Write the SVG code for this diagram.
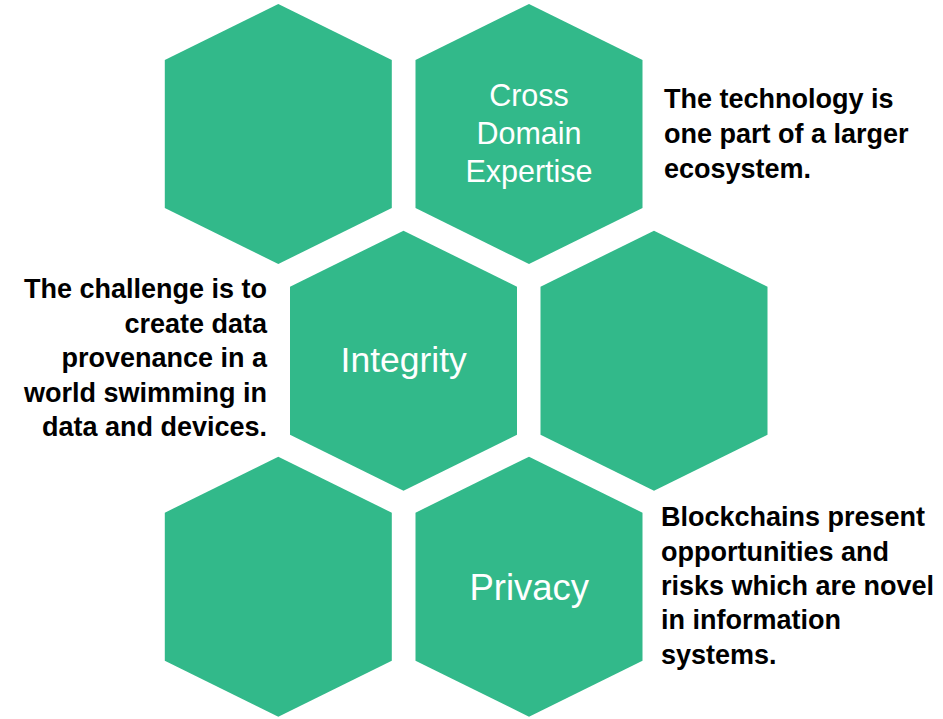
<svg xmlns="http://www.w3.org/2000/svg" xmlns:xlink="http://www.w3.org/1999/xlink" width="943" height="719" viewBox="0 0 943 719">
  <style>
    .hex { fill: #32B98A; }
    .lbl { font-family: "Liberation Sans", Arial, sans-serif; fill: #FFFFFF; text-anchor: middle; }
    .note { font-family: "Liberation Sans", Arial, sans-serif; font-weight: bold; font-size: 27px; fill: #000000; }
  </style>
  <defs>
    <polygon id="hexshape" points="0,-130 113.5,-74 113.5,74 0,130 -113.5,74 -113.5,-74"/>
  </defs>
  <rect x="0" y="0" width="943" height="719" fill="#FFFFFF"/>
  <g id="connectors"/>
  <g id="hex-top-left">
    <use xlink:href="#hexshape" href="#hexshape" class="hex" transform="translate(278.3,134)"/>
  </g>
  <g id="hex-cross-domain">
    <use xlink:href="#hexshape" href="#hexshape" class="hex" transform="translate(529,134)"/>
    <text class="lbl" font-size="30.5"><tspan x="529" y="106">Cross</tspan><tspan x="529" y="144">Domain</tspan><tspan x="529" y="181.7">Expertise</tspan></text>
  </g>
  <g id="hex-integrity">
    <use xlink:href="#hexshape" href="#hexshape" class="hex" transform="translate(403.5,360.7)"/>
    <text class="lbl" font-size="35.5" x="403.7" y="371.7">Integrity</text>
  </g>
  <g id="hex-mid-right">
    <use xlink:href="#hexshape" href="#hexshape" class="hex" transform="translate(654,360.7)"/>
  </g>
  <g id="hex-bottom-left">
    <use xlink:href="#hexshape" href="#hexshape" class="hex" transform="translate(278.3,586.7)"/>
  </g>
  <g id="hex-privacy">
    <use xlink:href="#hexshape" href="#hexshape" class="hex" transform="translate(529,586.7)"/>
    <text class="lbl" font-size="36.5" x="529.3" y="600">Privacy</text>
  </g>
  <g id="note-technology">
    <text class="note"><tspan x="664" y="108.3">The technology is</tspan><tspan x="664" y="143">one part of a larger</tspan><tspan x="664" y="177.5">ecosystem.</tspan></text>
  </g>
  <g id="note-challenge">
    <text class="note" text-anchor="end"><tspan x="267" y="298.3">The challenge is to</tspan><tspan x="267" y="332.7">create data</tspan><tspan x="267" y="367">provenance in a</tspan><tspan x="267" y="401.5">world swimming in</tspan><tspan x="267" y="436">data and devices.</tspan></text>
  </g>
  <g id="note-blockchains">
    <text class="note"><tspan x="661" y="526">Blockchains present</tspan><tspan x="661" y="560.5">opportunities and</tspan><tspan x="661" y="595">risks which are novel</tspan><tspan x="661" y="629.3">in information</tspan><tspan x="661" y="663.5">systems.</tspan></text>
  </g>
</svg>
